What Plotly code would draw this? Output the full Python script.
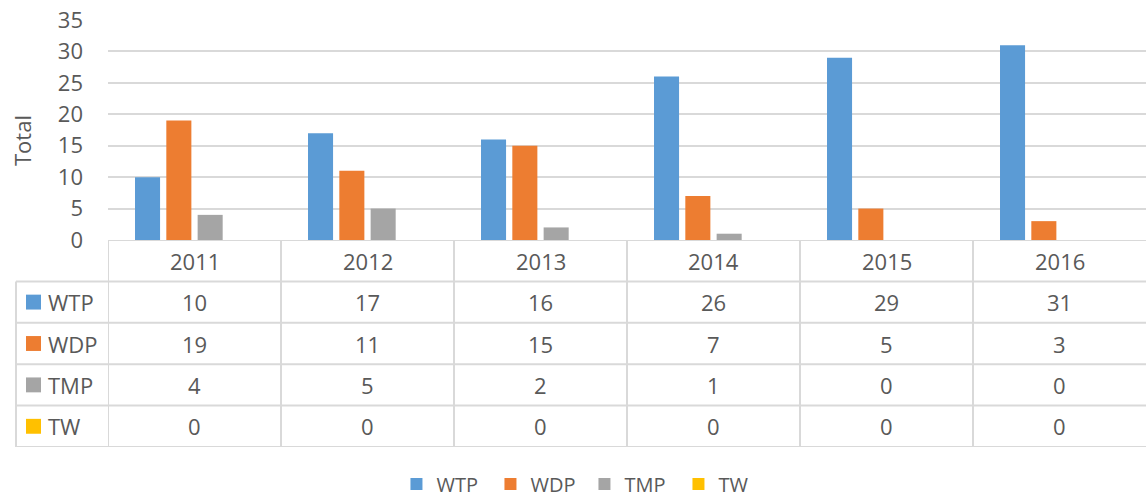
import plotly.graph_objects as go

years = ["2011", "2012", "2013", "2014", "2015", "2016"]
series_names = ["WTP", "WDP", "TMP", "TW"]
wtp = [10, 17, 16, 26, 29, 31]
wdp = [19, 11, 15, 7, 5, 3]
tmp = [4, 5, 2, 1, 0, 0]
tw = [0, 0, 0, 0, 0, 0]
colors = ["#5B9BD5", "#ED7D31", "#A5A5A5", "#FFC000"]
y_ticks = [0, 5, 10, 15, 20, 25, 30, 35]

series_values = [wtp, wdp, tmp, tw]

W, H = 1146, 495
FONT = "Open Sans"
TXT = "#595959"
GRID = "#D9D9D9"
FS = 22

def px_x(p):
    return p / W

def px_y(p):
    return (H - p) / H

fig = go.Figure()
for name, vals, col in zip(series_names, series_values, colors):
    fig.add_trace(go.Bar(x=list(range(len(years))), y=vals, name=name,
                         marker=dict(color=col, line=dict(width=0)),
                         xaxis="x", yaxis="y"))

x_dom = [px_x(108), 1.0]
y_dom = [px_y(240), px_y(20)]
y2_dom = [px_y(447), px_y(240)]

annotations = []
shapes = []

# header years
for i, yr in enumerate(years):
    annotations.append(dict(x=i, y=0, xref="x", yref="y2", text=yr, showarrow=False,
                            font=dict(family=FONT, size=FS, color=TXT)))
# values
for r, (name, vals, col) in enumerate(zip(series_names, series_values, colors), start=1):
    for i, v in enumerate(vals):
        annotations.append(dict(x=i, y=r, xref="x", yref="y2", text=str(v), showarrow=False,
                                font=dict(family=FONT, size=FS, color=TXT)))
    annotations.append(dict(x=px_x(46), y=r, xref="paper", yref="y2", text=name, showarrow=False,
                            xanchor="left", font=dict(family=FONT, size=FS, color=TXT)))
    shapes.append(dict(type="rect", xref="paper", yref="y2", x0=px_x(26), x1=px_x(41),
                       y0=r - 0.18, y1=r + 0.18, fillcolor=col, line=dict(width=0)))

# grid lines of the table
lw = 2
shapes.append(dict(type="line", xref="paper", yref="y2", x0=px_x(108), x1=1, y0=-0.5, y1=-0.5,
                   line=dict(color=GRID, width=lw)))
for k in range(5):
    yv = k + 0.5
    shapes.append(dict(type="line", xref="paper", yref="y2", x0=px_x(16), x1=1, y0=yv, y1=yv,
                       line=dict(color=GRID, width=lw)))
shapes.append(dict(type="line", xref="paper", yref="y2", x0=px_x(16), x1=px_x(16), y0=0.5, y1=4.5,
                   line=dict(color=GRID, width=lw)))
for k in range(len(years)):
    xv = k - 0.5
    shapes.append(dict(type="line", xref="x", yref="y2", x0=xv, x1=xv, y0=-0.5, y1=4.5,
                       line=dict(color=GRID, width=lw)))

annotations.append(dict(x=px_x(22), y=px_y(141), xref="paper", yref="paper", text="Total",
                        textangle=-90, showarrow=False, xanchor="center", yanchor="middle",
                        font=dict(family=FONT, size=FS, color=TXT)))

fig.update_layout(
    width=W, height=H,
    margin=dict(l=0, r=0, t=0, b=0, autoexpand=False),
    paper_bgcolor="white", plot_bgcolor="white",
    barmode="group", bargap=0.276, bargroupgap=0.2,
    font=dict(family=FONT, size=FS, color=TXT),
    showlegend=True,
    xaxis=dict(domain=x_dom, range=[-0.5, 5.5], showticklabels=False, automargin=False,
               showgrid=False, zeroline=False, showline=False, ticks=""),
    yaxis=dict(domain=y_dom, range=[0, 35], tickvals=y_ticks, showgrid=True, gridcolor=GRID,
               gridwidth=1.5, zeroline=False, showline=False, ticks="", ticklabelstandoff=24,
               automargin=False, tickfont=dict(family=FONT, size=FS, color=TXT)),
    yaxis2=dict(domain=y2_dom, range=[4.5, -0.5], anchor="x", showticklabels=False,
                automargin=False, showgrid=False, zeroline=False, showline=False, ticks=""),
    legend=dict(orientation="h", x=0.51, xanchor="center", y=px_y(484), yanchor="middle",
                font=dict(family=FONT, size=20, color=TXT), bgcolor="rgba(0,0,0,0)",
                entrywidth=49, entrywidthmode="pixels"),
    annotations=annotations,
    shapes=shapes,
)

fig.write_html("out.html", config={"displayModeBar": False},
               post_script="document.body.style.margin='0';document.body.style.overflow='hidden';")
